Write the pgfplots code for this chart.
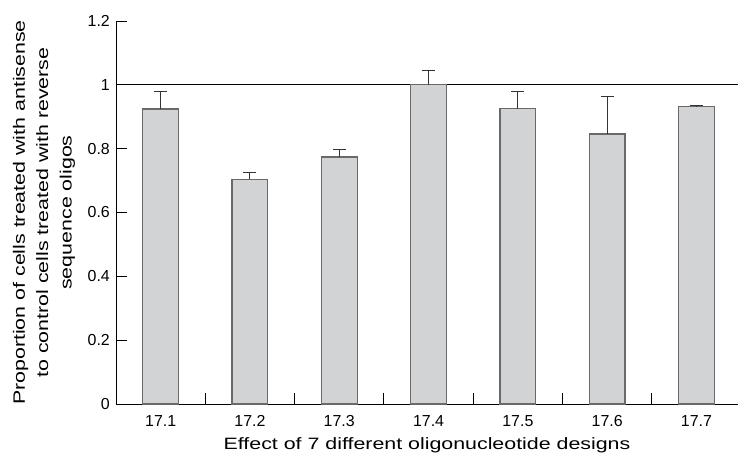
\documentclass[border=0pt]{standalone}
\usepackage{fontspec}
\setmainfont{Liberation Sans}
\newfontfamily\labelfont[FakeStretch=1.3]{Liberation Sans}
\usepackage{pgfplots}
\pgfplotsset{compat=1.18}
\definecolor{barfill}{RGB}{210,211,213}
\definecolor{baredge}{RGB}{105,105,105}
\begin{document}
\begin{tikzpicture}
\path[use as bounding box] (-116bp,-51bp) rectangle (622bp,404bp);
\begin{axis}[
  scale only axis,
  width=622bp, height=383bp,
  xmin=0.5, xmax=7.465,
  ymin=0, ymax=1.2,
  axis x line=bottom, axis y line=left,
  axis line style={-, line width=0.9bp, black},
  xtick={1,2,3,4,5,6,7},
  xticklabels={17.1,17.2,17.3,17.4,17.5,17.6,17.7},
  minor xtick={1.5,2.5,3.5,4.5,5.5,6.5},
  major x tick style={draw=none},
  minor x tick style={line width=0.9bp, black},
  minor tick length=11bp,
  ytick={0,0.2,0.4,0.6,0.8,1,1.2},
  y tick style={line width=0.9bp, black},
  major tick length=11bp,
  tick align=inside,
  /pgf/number format/assume math mode=true,
  tick label style={font=\fontsize{16}{18}\selectfont, inner sep=0pt},
  xticklabel style={anchor=base, yshift=-22.7bp},
  yticklabel style={anchor=east, xshift=-6bp},
  xlabel={Effect of 7 different oligonucleotide designs},
  xlabel style={at={(axis description cs:0.5,0)}, anchor=base, yshift=-45bp,
    font=\labelfont\fontsize{16.5}{20}\selectfont, inner sep=0pt},
  ylabel={Proportion of cells treated with antisense\\to control cells treated with reverse\\sequence oligos},
  ylabel style={at={(axis description cs:-0.1158,0.5)}, anchor=center, align=center,
    font=\labelfont\fontsize{16.5}{23.5}\selectfont},
  clip=false,
]
\addplot[black, line width=0.9bp, sharp plot] coordinates {(0.5,1) (7.465,1)};
\addplot[ybar, bar width=0.4, fill=barfill, draw=baredge, line width=1.2bp,
  error bars/.cd, y dir=plus, y explicit,
  error bar style={line width=1bp, color=black!80},
  error mark options={rotate=90, mark size=6.5bp, line width=1bp, color=black!80}]
  table[x=x, y=y, y error=e] {
  x y e
  1 0.924 0.054
  2 0.704 0.020
  3 0.774 0.023
  4 1.000 0.045
  5 0.925 0.055
  6 0.846 0.117
  7 0.932 0.003
};
\end{axis}
\end{tikzpicture}
\end{document}
